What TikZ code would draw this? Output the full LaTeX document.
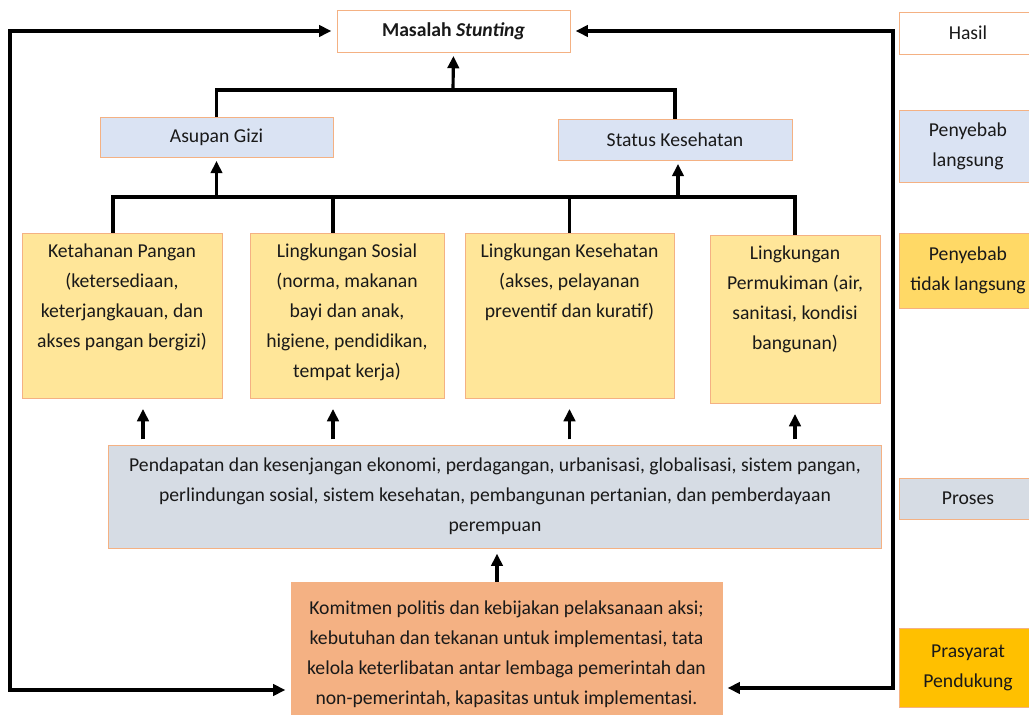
\documentclass[tikz,border=0pt]{standalone}
\usepackage{fontspec}
\setmainfont{Carlito}
\usepackage{tikz}
\usetikzlibrary{arrows.meta}
\definecolor{edgeorange}{HTML}{F4B183}
\definecolor{paleblue}{HTML}{DAE3F3}
\definecolor{greyblue}{HTML}{D6DCE4}
\definecolor{paleyellow}{HTML}{FFE699}
\definecolor{midyellow}{HTML}{FFD966}
\definecolor{gold}{HTML}{FFC000}
\definecolor{salmon}{HTML}{F4B183}

\begin{document}
\begin{tikzpicture}[x=0.02cm, y=-0.02cm,
    every node/.style={font=\fontsize{11.2}{17}\selectfont, text=black!90},
    box/.style={draw=edgeorange, line width=0.5pt, align=center, inner sep=0pt},
    lbl/.style={anchor=north, align=center, yshift=-3pt},
    link/.style={line width=1.8pt},
    tip/.style={-{Triangle[length=7pt,width=6.5pt]}},
    arr/.style={link, tip, shorten >=2pt}]
    \useasboundingbox (0,0) rectangle (1029,715);

    \node[box, fill=white, minimum width=4.66cm, minimum height=0.84cm] (masalah) at (453.5,31) {\textbf{Masalah \textit{Stunting}}};
    \node[box, fill=paleblue, minimum width=4.66cm, minimum height=0.8cm] (asupan) at (216.5,137) {Asupan Gizi};
    \node[box, fill=paleblue, minimum width=4.68cm, minimum height=0.82cm] (status) at (675,139.5) {Status Kesehatan};

    \node[box, fill=paleyellow, minimum width=4.0cm, minimum height=3.3cm, label={[lbl]north:{Ketahanan Pangan\\(ketersediaan,\\keterjangkauan, dan\\akses pangan bergizi)}}] (pangan) at (122,315.5) {};
    \node[box, fill=paleyellow, minimum width=3.88cm, minimum height=3.3cm, label={[lbl]north:{Lingkungan Sosial\\(norma, makanan\\bayi dan anak,\\higiene, pendidikan,\\tempat kerja)}}] (sosial) at (347,315.5) {};
    \node[box, fill=paleyellow, minimum width=4.18cm, minimum height=3.3cm, label={[lbl]north:{Lingkungan Kesehatan\\(akses, pelayanan\\preventif dan kuratif)}}] (kesehatan) at (569.5,315.5) {};
    \node[box, fill=paleyellow, minimum width=3.4cm, minimum height=3.36cm, label={[lbl]north:{Lingkungan\\Permukiman (air,\\sanitasi, kondisi\\bangunan)}}] (permukiman) at (795,319) {};

    \node[box, fill=greyblue, minimum width=15.48cm, minimum height=2.06cm] (pendapatan) at (495,496.5) {Pendapatan dan kesenjangan ekonomi, perdagangan, urbanisasi, globalisasi, sistem pangan,\\perlindungan sosial, sistem kesehatan, pembangunan pertanian, dan pemberdayaan\\perempuan};
    \node[box, fill=salmon, minimum width=8.62cm, minimum height=2.9cm] (komitmen) at (506.5,654.5) {Komitmen politis dan kebijakan pelaksanaan aksi;\\kebutuhan dan tekanan untuk implementasi, tata\\kelola keterlibatan antar lembaga pemerintah dan\\non-pemerintah, kapasitas untuk implementasi.};

    \node[box, fill=white, minimum width=2.76cm, minimum height=0.84cm] (hasil) at (968,33) {Hasil};
    \node[box, fill=paleblue, minimum width=2.76cm, minimum height=1.44cm] (langsung) at (968,146) {Penyebab\\langsung};
    \node[box, fill=midyellow, minimum width=2.76cm, minimum height=1.5cm] (tidak) at (968,270.5) {Penyebab\\tidak langsung};
    \node[box, fill=greyblue, minimum width=2.76cm, minimum height=0.82cm] (proses) at (968,498.5) {Proses};
    \node[box, fill=gold, minimum width=2.76cm, minimum height=1.58cm] (prasyarat) at (968,668) {Prasyarat\\Pendukung};

    \coordinate (tophub) at (453,90);
    \coordinate (lowhub) at (113,197);
    \coordinate (leftcorner) at (10,690);
    \coordinate (rightcorner) at (893,688);

    \draw[link] (asupan.north) |- (tophub) -| (status.north);
    \draw[arr] (tophub) -- (masalah.south);

    \draw[link] (pangan.north -| lowhub) -- (lowhub) -- (lowhub -| permukiman.north) -- (permukiman.north);
    \draw[link] (lowhub -| 333,0) -- (sosial.north -| 333,0);
    \draw[link] (lowhub -| kesehatan.north) -- (kesehatan.north);
    \draw[arr] (lowhub -| asupan.south) -- (asupan.south);
    \draw[arr] (lowhub -| 678,0) -- (status.south -| 678,0);

    \draw[arr, shorten <=3pt, shorten >=6pt] (pendapatan.north -| 143,0) -- (pangan.south -| 143,0);
    \draw[arr, shorten <=3pt, shorten >=6pt] (pendapatan.north -| 333,0) -- (sosial.south -| 333,0);
    \draw[arr, shorten <=3pt, shorten >=6pt] (pendapatan.north -| kesehatan.south) -- (kesehatan.south);
    \draw[arr, shorten <=3pt, shorten >=6pt] (pendapatan.north -| permukiman.south) -- (permukiman.south);
    \draw[arr, shorten >=3pt] (komitmen.north -| 497,0) -- (pendapatan.south -| 497,0);

    \draw[link, {Triangle[length=7pt,width=6.5pt]}-{Triangle[length=7pt,width=6.5pt]}, shorten <=3pt, shorten >=3pt] (masalah.west) -| (leftcorner) -- (leftcorner -| komitmen.west);
    \draw[link, {Triangle[length=7pt,width=6.5pt]}-{Triangle[length=7pt,width=6.5pt]}, shorten <=3pt, shorten >=3pt] (masalah.east) -| (rightcorner) -- (rightcorner -| komitmen.east);
\end{tikzpicture}
\end{document}
